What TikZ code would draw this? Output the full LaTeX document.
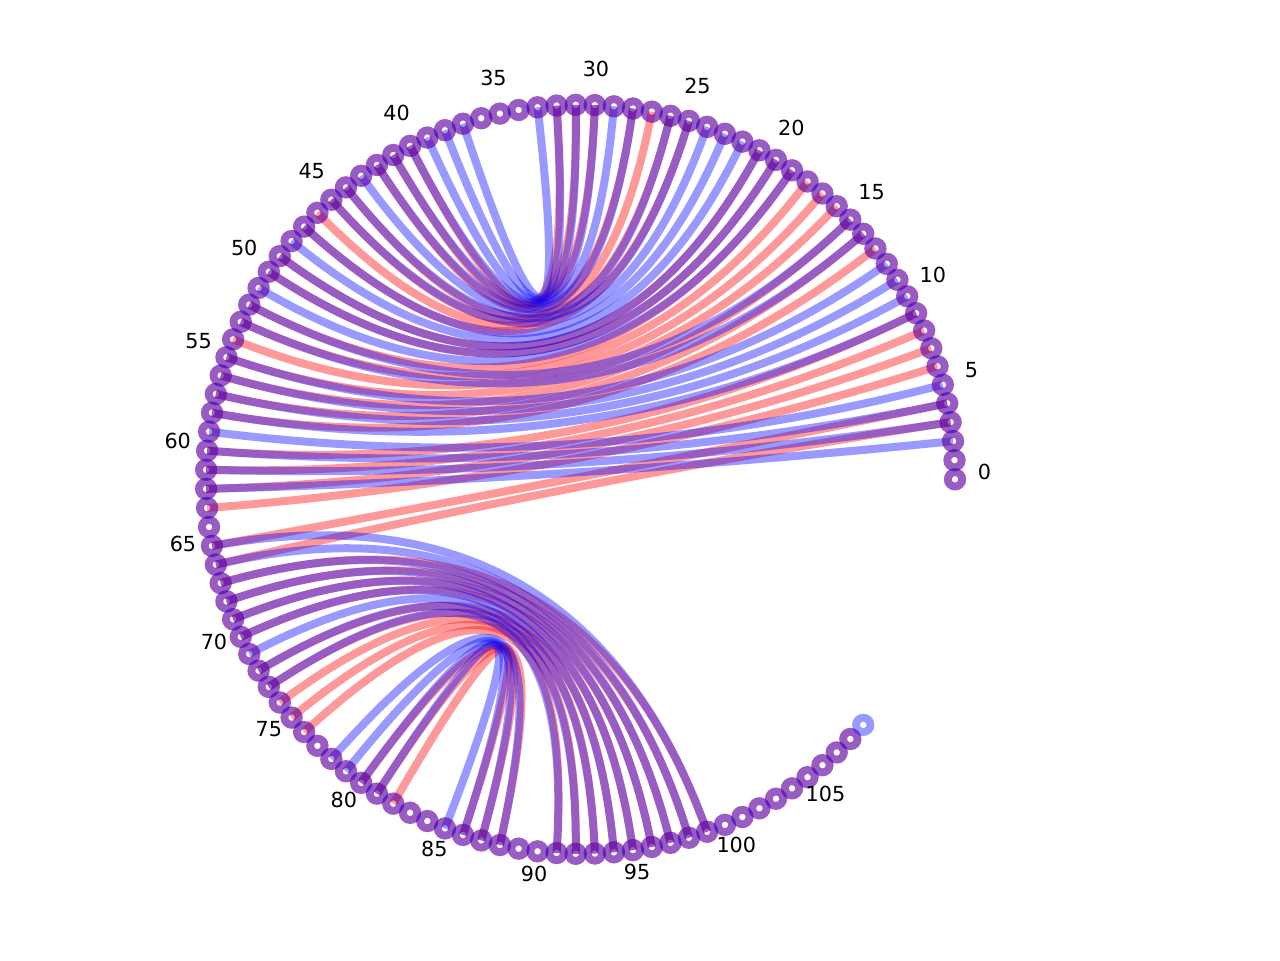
\documentclass[tikz,border=0pt]{standalone}
\usepackage{fontspec}
\setmainfont{DejaVu Sans}
\usetikzlibrary{calc}

\begin{document}
\begin{tikzpicture}[
    redarc/.style={line width=0.08cm, draw=red, draw opacity=0.4},
    bluearc/.style={line width=0.08cm, draw=blue, draw opacity=0.4},
    redring/.style={line width=0.078cm, draw=red, draw opacity=0.4},
    bluering/.style={line width=0.078cm, draw=blue, draw opacity=0.4},
    lbl/.style={font=\fontsize{5.9}{7}\selectfont, inner sep=0pt}
]
    \useasboundingbox (-5.805,-4.807) rectangle (6.995,4.793);

    % Positions (360/123 degrees apart)
    \coordinate (ctr) at (0,0);
    \foreach \i in {0,...,109}
        \coordinate (n\i) at ({\i*2.926829}:3.745);

    % Pairs of the red structure
    \foreach \a/\b in {3/66, 4/65, 6/63, 7/62, 8/61, 9/60, 13/58, 14/57, 15/56, 16/55,
        17/54, 18/53, 19/52, 20/50, 21/49, 25/47, 26/46, 27/45, 28/44, 30/42, 31/41, 32/40,
        67/99, 68/98, 69/97, 70/96, 72/95, 73/94, 74/93, 75/92, 76/91, 80/88, 81/87, 82/86}
        \draw[redarc] (n\a) .. controls ($(n\a)!2/3!(ctr)$) and ($(n\b)!2/3!(ctr)$) .. (n\b);

    % Pairs of the blue structure
    \foreach \a/\b in {2/62, 3/61, 4/60, 5/59, 9/58, 10/57, 11/56, 12/55, 14/53, 15/52,
        19/51, 20/50, 21/49, 22/48, 23/47, 24/45, 25/44, 26/43, 28/42, 29/41, 30/40, 31/39,
        32/38, 33/37, 65/99, 66/98, 67/97, 68/96, 69/95, 70/94, 71/93, 72/92, 73/91,
        78/88, 79/87, 80/86, 81/85}
        \draw[bluearc] (n\a) .. controls ($(n\a)!2/3!(ctr)$) and ($(n\b)!2/3!(ctr)$) .. (n\b);

    % Bases
    \foreach \i in {0,...,108}
        \draw[redring] (n\i) circle (0.072);
    \foreach \i in {0,...,109}
        \draw[bluering] (n\i) circle (0.072);

    % Index labels
    \foreach \i in {0,5,...,105}
        \node[lbl] (l\i) at ($({\i*2.926829}:4.04)+(0,0.07)$) {\i};
\end{tikzpicture}
\end{document}
